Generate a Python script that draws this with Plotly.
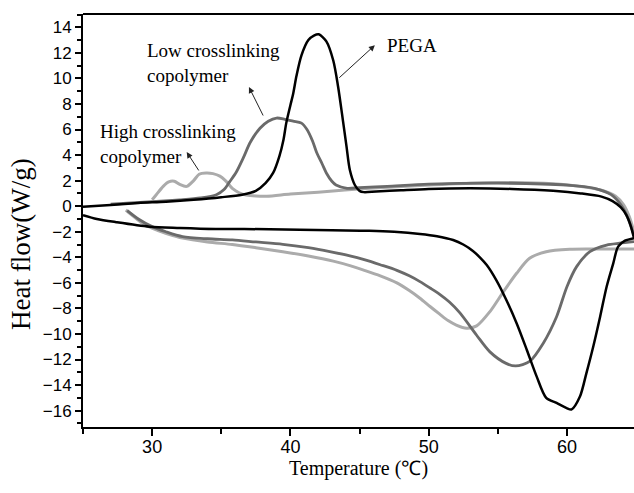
import plotly.graph_objects as go

# ---- data ----
pega_cool_x = [25, 27, 29, 31, 33, 35, 36.5, 37.5, 38.2, 38.75, 39.2, 39.5, 39.7, 40.0, 40.2, 40.44, 40.8, 41.3, 41.7, 42.05, 42.6, 43.1, 43.45, 43.8, 44.06, 44.3, 44.66, 45.0, 45.3, 46.2, 48, 50, 53, 56, 59, 61, 62.5, 63.3, 63.9, 64.3, 64.6, 64.85]
pega_cool_y = [-0.05, 0.1, 0.25, 0.35, 0.5, 0.7, 0.9, 1.2, 1.8, 2.6, 3.9, 5.2, 6.5, 7.9, 8.8, 10.2, 11.8, 13.0, 13.35, 13.45, 12.9, 11.4, 9.35, 6.7, 4.66, 2.83, 1.66, 1.2, 1.1, 1.15, 1.25, 1.35, 1.4, 1.35, 1.2, 1.0, 0.75, 0.4, -0.1, -0.7, -1.5, -2.5]

pega_heat_x = [25, 26, 27.4, 29.8, 32, 34.6, 38.5, 43, 45.7, 47.5, 49.37, 50.6, 51.77, 52.5, 53.2, 53.7, 54.2, 54.9, 55.6, 56.36, 57.1, 57.8, 58.5, 59.25, 59.98, 60.34, 60.94, 61.4, 61.9, 62.4, 62.87, 63.35, 63.7, 64.2, 64.85]
pega_heat_y = [-0.7, -1.0, -1.25, -1.6, -1.7, -1.78, -1.8, -1.88, -1.92, -2.0, -2.17, -2.35, -2.65, -3.0, -3.5, -4.0, -4.6, -5.8, -7.3, -9.16, -11.25, -13.3, -15.0, -15.4, -15.8, -15.9, -14.9, -13.1, -11.0, -8.65, -6.3, -4.47, -3.17, -2.7, -2.5]

low_cool_x = [27, 30, 32, 33.5, 34.65, 35.2, 35.6, 36.1, 36.6, 37.1, 37.8, 38.4, 39.0, 39.6, 40.2, 40.8, 41.2, 41.6, 41.9, 42.3, 42.6, 43.0, 43.3, 44.1, 45, 47, 50, 55, 60, 62, 63.2, 63.9, 64.4, 64.85]
low_cool_y = [0.15, 0.35, 0.5, 0.65, 0.9, 1.3, 1.9, 2.7, 3.8, 5.0, 6.1, 6.65, 6.9, 6.8, 6.65, 6.5, 6.0, 5.1, 4.2, 3.3, 2.6, 1.95, 1.66, 1.4, 1.45, 1.55, 1.72, 1.8, 1.65, 1.4, 0.9, 0.1, -0.9, -2.3]

low_heat_x = [28.2, 29, 30, 31, 32.2, 34, 35.8, 37.5, 39.45, 41.3, 42.85, 44.3, 45.4, 46.5, 47.7, 48.6, 49.4, 50.1, 50.8, 51.5, 52.26, 53.47, 54.43, 55.6, 56.3, 57.3, 58.3, 59.25, 60.0, 60.7, 61.66, 62.87, 63.8, 64.85]
low_heat_y = [-0.35, -1.0, -1.6, -2.0, -2.38, -2.55, -2.64, -2.8, -2.98, -3.25, -3.55, -3.88, -4.2, -4.58, -5.02, -5.45, -5.92, -6.4, -6.9, -7.5, -8.35, -10.1, -11.4, -12.3, -12.5, -12.15, -10.7, -8.65, -6.3, -4.73, -3.56, -3.04, -2.9, -2.78]

high_cool_x = [30.0, 30.3, 30.8, 31.2, 31.6, 32.0, 32.5, 33.0, 33.4, 33.9, 34.4, 34.9, 35.3, 35.85, 36.3, 36.8, 37.5, 38.3, 40, 42, 45.7, 49, 53, 56, 59, 60.9, 62.5, 63.5, 64.1, 64.5, 64.85]
high_cool_y = [0.5, 0.9, 1.55, 1.9, 1.95, 1.7, 1.55, 2.0, 2.5, 2.6, 2.55, 2.35, 2.0, 1.35, 1.05, 0.88, 0.8, 0.78, 0.95, 1.1, 1.4, 1.6, 1.8, 1.85, 1.75, 1.55, 1.25, 0.8, 0.1, -0.8, -2.0]

high_heat_x = [28.1, 28.6, 29.3, 30.3, 31.2, 32.2, 34, 35.8, 37.5, 39.45, 41.3, 43.1, 44.3, 45.3, 46.5, 47.7, 48.6, 49.37, 50.1, 50.8, 51.4, 52.0, 52.74, 53.47, 54.43, 55.4, 56.36, 57.3, 58.5, 60.2, 62, 64.85]
high_heat_y = [-0.3, -0.75, -1.34, -1.86, -2.2, -2.5, -2.8, -3.0, -3.25, -3.56, -3.9, -4.3, -4.65, -5.0, -5.45, -6.0, -6.6, -7.2, -7.85, -8.45, -8.95, -9.3, -9.55, -9.37, -8.25, -6.7, -5.25, -4.08, -3.56, -3.37, -3.35, -3.35]

x_ticks = [30, 40, 50, 60]
y_ticks = list(range(-16, 15, 2))

# ---- styles ----
C_PEGA = "#000000"
C_LOW = "#6a6a6a"
C_HIGH = "#ababab"

fig = go.Figure()

def add(x, y, color, width):
    fig.add_trace(go.Scatter(x=x, y=y, mode="lines",
                             line=dict(color=color, width=width, shape="spline", smoothing=0.8),
                             showlegend=False, hoverinfo="skip"))

add(high_heat_x, high_heat_y, C_HIGH, 3)
add(high_cool_x, high_cool_y, C_HIGH, 3)
add(low_heat_x, low_heat_y, C_LOW, 2.8)
add(low_cool_x, low_cool_y, C_LOW, 2.8)
add(pega_heat_x, pega_heat_y, C_PEGA, 2.5)
add(pega_cool_x, pega_cool_y, C_PEGA, 2.5)

serif = "Liberation Serif, Times New Roman, serif"
sans = "Liberation Sans, Arial, sans-serif"

ann_font = dict(family=serif, size=19, color="black")
# text labels
fig.add_annotation(x=29.46, y=11.2, xref="x", yref="y", text="Low crosslinking<br>copolymer",
                   showarrow=False, xanchor="left", yanchor="middle", align="left", font=ann_font)
fig.add_annotation(x=26.07, y=4.9, xref="x", yref="y", text="High crosslinking<br>copolymer",
                   showarrow=False, xanchor="left", yanchor="middle", align="left", font=ann_font)
fig.add_annotation(x=46.83, y=12.6, xref="x", yref="y", text="PEGA",
                   showarrow=False, xanchor="left", yanchor="middle", align="left", font=ann_font)

# arrows
for hx, hy, tx, ty in [(46.11, 12.6, 43.43, 9.95), (37.0, 9.33, 38.08, 6.98), (32.5, 4.24, 33.44, 2.68)]:
    fig.add_annotation(x=hx, y=hy, ax=tx, ay=ty, xref="x", yref="y", axref="x", ayref="y",
                       text="", showarrow=True, arrowhead=2, arrowsize=1.2, arrowwidth=1,
                       arrowcolor="#222222")

# y-axis title (placed lower than centre as in the reference)
fig.add_annotation(x=-0.1125, y=0.443, xref="paper", yref="paper", text="Heat flow(W/g)",
                   textangle=-90, showarrow=False, xanchor="center", yanchor="middle",
                   font=dict(family=serif, size=27, color="black"))

# top frame line
fig.add_shape(type="line", xref="paper", yref="paper", x0=0, x1=1, y0=1, y1=1,
              line=dict(color="black", width=2))

fig.update_layout(
    width=634, height=493,
    margin=dict(l=83, r=0, t=14, b=66, autoexpand=False),
    paper_bgcolor="white", plot_bgcolor="white",
    xaxis=dict(range=[25, 64.85], tickvals=x_ticks, ticks="outside", ticklen=7, tickwidth=1.5,
               tickcolor="black", showline=True, linecolor="black", linewidth=2,
               showgrid=False, zeroline=False, automargin=False, ticklabelstandoff=-5,
               minor=dict(dtick=5, tick0=25, ticks="outside", ticklen=5, tickwidth=1.5, tickcolor="black"),
               tickfont=dict(family=sans, size=18, color="black"),
               title=dict(text="Temperature (℃)", font=dict(family=serif, size=20, color="black"), standoff=4)),
    yaxis=dict(range=[-17.28, 15.04], tickvals=y_ticks, ticks="outside", ticklen=6, tickwidth=1.5,
               tickcolor="black", showline=True, linecolor="black", linewidth=2,
               showgrid=False, zeroline=False, automargin=False,
               minor=dict(dtick=1, tick0=0, ticks="outside", ticklen=4, tickwidth=1.5, tickcolor="black"),
               tickfont=dict(family=sans, size=17, color="black")),
)

fig.write_html("out.html", config={"displayModeBar": False},
               post_script="document.body.style.margin='0px';")
